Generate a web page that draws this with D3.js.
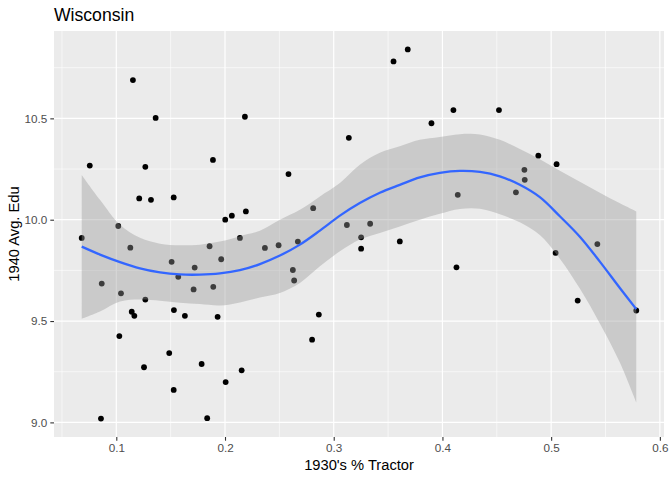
<!DOCTYPE html>
<html><head><meta charset="utf-8">
<script src="https://cdn.jsdelivr.net/npm/d3@7"></script>
<style>body{margin:0;background:#fff}svg{display:block}</style>
</head><body>
<svg id="c" width="672" height="480"></svg>
<script>
const tractor = [0.0682,0.0756,0.0859,0.0866,0.1018,0.1028,0.1043,0.1129,0.1142,0.1153,0.1166,0.1211,0.1255,0.1267,0.1267,0.1319,0.1362,0.1487,0.1509,0.1528,0.1528,0.1530,0.1570,0.1631,0.1711,0.1721,0.1785,0.1836,0.1858,0.1889,0.1892,0.1932,0.1965,0.2002,0.2006,0.2063,0.2137,0.2153,0.2183,0.2192,0.2367,0.2493,0.2584,0.2624,0.2636,0.2670,0.2801,0.2811,0.2863,0.3121,0.3139,0.3252,0.3252,0.3335,0.3550,0.3608,0.3681,0.3899,0.4101,0.4129,0.4141,0.4520,0.4676,0.4754,0.4757,0.4882,0.5041,0.5050,0.5244,0.5425,0.5783];
const edu = [9.910,10.267,9.019,9.685,9.969,9.426,9.637,9.862,9.546,10.689,9.526,10.105,9.272,10.261,9.606,10.098,10.502,9.342,9.792,10.110,9.160,9.554,9.718,9.526,9.656,9.764,9.288,9.021,9.869,10.295,9.669,9.521,9.805,10.000,9.199,10.020,9.910,9.257,10.508,10.041,9.861,9.874,10.225,9.752,9.700,9.892,9.408,10.057,9.532,9.974,10.404,9.913,9.857,9.980,10.781,9.893,10.840,10.476,10.541,9.765,10.123,10.541,10.135,10.246,10.197,10.316,9.836,10.274,9.601,9.880,9.552];
const smoothX = [0.0682,0.0850,0.1034,0.1218,0.1402,0.1585,0.1769,0.1953,0.2137,0.2321,0.2505,0.2689,0.2873,0.3057,0.3240,0.3424,0.3608,0.3792,0.3976,0.4160,0.4345,0.4528,0.4712,0.4896,0.5080,0.5264,0.5448,0.5632,0.5783];
const smoothY = [9.867,9.828,9.791,9.760,9.740,9.730,9.729,9.735,9.751,9.781,9.823,9.877,9.946,10.020,10.082,10.133,10.172,10.209,10.231,10.241,10.236,10.214,10.172,10.111,10.017,9.916,9.793,9.663,9.559];
const smoothUpper = [10.221,10.098,9.975,9.911,9.882,9.874,9.877,9.892,9.919,9.946,10.000,10.049,10.115,10.181,10.271,10.330,10.362,10.394,10.408,10.422,10.421,10.394,10.349,10.298,10.241,10.187,10.133,10.081,10.041];
const smoothLower = [9.511,9.547,9.596,9.606,9.600,9.590,9.584,9.577,9.592,9.616,9.639,9.688,9.770,9.844,9.902,9.935,9.967,10.000,10.029,10.053,10.054,10.027,9.987,9.924,9.808,9.660,9.488,9.295,9.098];
const xTicks = [0.1,0.2,0.3,0.4,0.5,0.6];
const xMinor = [0.05,0.15,0.25,0.35,0.45,0.55];
const yTicks = [9.0,9.5,10.0,10.5];
const yMinor = [9.25,9.75,10.25,10.75];
const titleText = "Wisconsin";
const xTitle = "1930's % Tractor";
const yTitle = "1940 Avg. Edu";

const L=54,T=31,R=664,B=437;
const svg=d3.select("#c");
const font="'Liberation Sans', Arial, Helvetica, sans-serif";
const xr=d3.extent(tractor), yr=d3.extent(edu);
const xp=(xr[1]-xr[0])*0.05, yp=(yr[1]-yr[0])*0.05;
const x=d3.scaleLinear().domain([xr[0]-xp,xr[1]+xp]).range([L,R]);
const y=d3.scaleLinear().domain([yr[0]-yp,yr[1]+yp]).range([B,T]);

svg.append("rect").attr("x",L).attr("y",T).attr("width",R-L).attr("height",B-T).attr("fill","#EBEBEB");
const g=svg.append("g");
g.selectAll(".xm").data(xMinor).join("line").attr("x1",d=>x(d)).attr("x2",d=>x(d)).attr("y1",T).attr("y2",B).attr("stroke","#fff").attr("stroke-width",0.6);
g.selectAll(".ym").data(yMinor).join("line").attr("y1",d=>y(d)).attr("y2",d=>y(d)).attr("x1",L).attr("x2",R).attr("stroke","#fff").attr("stroke-width",0.6);
g.selectAll(".xM").data(xTicks).join("line").attr("x1",d=>x(d)).attr("x2",d=>x(d)).attr("y1",T).attr("y2",B).attr("stroke","#fff").attr("stroke-width",1.2);
g.selectAll(".yM").data(yTicks).join("line").attr("y1",d=>y(d)).attr("y2",d=>y(d)).attr("x1",L).attr("x2",R).attr("stroke","#fff").attr("stroke-width",1.2);

// points
svg.append("g").selectAll("circle").data(tractor.map((t,i)=>[t,edu[i]])).join("circle")
  .attr("cx",d=>x(d[0])).attr("cy",d=>y(d[1])).attr("r",2.9).attr("fill","#000");

// band
const sm=smoothX.map((v,i)=>({x:v,y:smoothY[i],lo:smoothLower[i],hi:smoothUpper[i]}));
svg.append("path").datum(sm).attr("d",d3.area().x(d=>x(d.x)).y0(d=>y(d.lo)).y1(d=>y(d.hi)).curve(d3.curveCatmullRom))
  .attr("fill","#999999").attr("fill-opacity",0.4);
svg.append("path").datum(sm).attr("d",d3.line().x(d=>x(d.x)).y(d=>y(d.y)).curve(d3.curveCatmullRom))
  .attr("fill","none").attr("stroke","#3366FF").attr("stroke-width",2.3);

// axes
const xa=svg.append("g").attr("transform",`translate(0,${B})`).call(d3.axisBottom(x).tickValues(xTicks).tickSize(3.7).tickPadding(3).tickFormat(d3.format(".1f")));
const ya=svg.append("g").attr("transform",`translate(${L},0)`).call(d3.axisLeft(y).tickValues(yTicks).tickSize(3.7).tickPadding(3).tickFormat(d3.format(".1f")));
[xa,ya].forEach(a=>{a.select(".domain").remove();a.attr("color","#4D4D4D");a.selectAll("line").attr("stroke","#333").attr("stroke-width",1.1);
  a.selectAll("text").attr("fill","#4D4D4D").style("font-family",font).style("font-size","11.7px");});

svg.append("text").attr("x",(L+R)/2).attr("y",470).attr("text-anchor","middle").style("font-family",font).style("font-size","14.7px").attr("fill","#000").text(xTitle);
svg.append("text").attr("transform",`translate(18.5,${(T+B)/2}) rotate(-90)`).attr("text-anchor","middle").style("font-family",font).style("font-size","14.7px").attr("fill","#000").text(yTitle);
svg.append("text").attr("x",L).attr("y",20.5).style("font-family",font).style("font-size","17.6px").attr("fill","#000").text(titleText);
</script>
</body></html>
